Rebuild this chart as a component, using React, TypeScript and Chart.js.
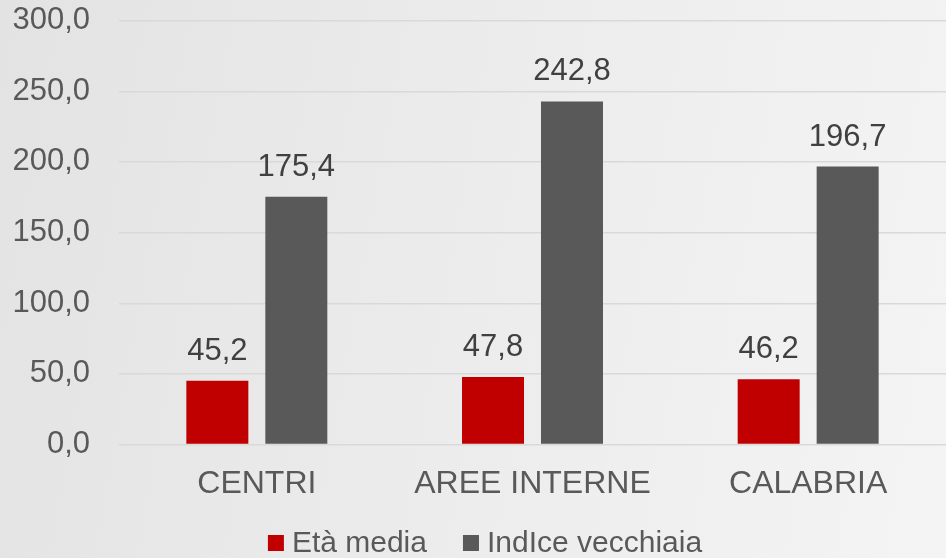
import React, { useEffect, useRef } from "react";
import { Chart, registerables } from "chart.js";

Chart.register(...registerables);

const categories = ["CENTRI", "AREE INTERNE", "CALABRIA"];
const etaMedia = [45.2, 47.8, 46.2];
const indiceVecchiaia = [175.4, 242.8, 196.7];
const seriesNames = ["Età media", "IndIce vecchiaia"];
const seriesColors = ["#C00000", "#595959"];

const FONT = 'Arial, "Liberation Sans", sans-serif';
const fmt = (v: number) => v.toFixed(1).replace(".", ",");

const dataLabels = {
  id: "dataLabels",
  afterDatasetsDraw(chart: any) {
    const ctx = chart.ctx;
    ctx.save();
    ctx.font = `31px ${FONT}`;
    ctx.fillStyle = "#404040";
    ctx.textAlign = "center";
    ctx.textBaseline = "bottom";
    chart.data.datasets.forEach((ds: any, i: number) => {
      const meta = chart.getDatasetMeta(i);
      meta.data.forEach((bar: any, j: number) => {
        ctx.fillText(fmt(ds.data[j]), bar.x, bar.y - 14);
      });
    });
    ctx.restore();
  },
};

const bottomLegend = {
  id: "bottomLegend",
  afterDraw(chart: any) {
    const ctx = chart.ctx;
    const box = 16;
    const gapText = 8;
    const gapItem = 36;
    const centerX = 485;
    const centerY = 543;
    ctx.save();
    ctx.font = `30px ${FONT}`;
    ctx.textBaseline = "middle";
    ctx.textAlign = "left";
    const items = chart.data.datasets.map((ds: any) => ({
      label: ds.label,
      color: ds.backgroundColor,
      w: ctx.measureText(ds.label).width,
    }));
    const total =
      items.reduce((s: number, it: any) => s + box + gapText + it.w, 0) +
      gapItem * (items.length - 1);
    let x = centerX - total / 2;
    items.forEach((it: any) => {
      ctx.fillStyle = it.color;
      ctx.fillRect(x, centerY - box / 2, box, box);
      ctx.fillStyle = "#595959";
      ctx.fillText(it.label, x + box + gapText, centerY + 1);
      x += box + gapText + it.w + gapItem;
    });
    ctx.restore();
  },
};

export default function App() {
  const ref = useRef<HTMLCanvasElement>(null);
  useEffect(() => {
    const chart = new Chart(ref.current!, {
      type: "bar",
      data: {
        labels: categories,
        datasets: [
          { label: seriesNames[0], data: etaMedia, backgroundColor: seriesColors[0] },
          { label: seriesNames[1], data: indiceVecchiaia, backgroundColor: seriesColors[1] },
        ],
      },
      options: {
        animation: false,
        responsive: false,
        maintainAspectRatio: false,
        layout: { padding: { left: 12, right: 0, top: 0, bottom: 35 } },
        datasets: { bar: { categoryPercentage: 0.573, barPercentage: 0.785 } },
        scales: {
          x: {
            grid: { display: false, drawTicks: false },
            border: { display: false },
            ticks: { color: "#595959", font: { family: FONT, size: 32 }, padding: 20 },
          },
          y: {
            min: 0,
            max: 300,
            afterFit: (scale: any) => {
              scale.width = 107;
            },
            grid: {
              color: "#D9D9D9",
              lineWidth: 1.5,
              drawTicks: true,
              tickLength: 27,
              tickColor: "rgba(0,0,0,0)",
            },
            border: { display: false },
            ticks: {
              stepSize: 50,
              color: "#595959",
              font: { family: FONT, size: 31 },
              padding: 2,
              callback: (v: any) => fmt(Number(v)),
            },
          },
        },
        plugins: {
          legend: { display: false },
          tooltip: { enabled: false },
        },
      },
      plugins: [dataLabels, bottomLegend],
    });
    return () => chart.destroy();
  }, []);
  return (
    <div
      style={{
        position: "absolute",
        left: 0,
        top: 0,
        width: 946,
        height: 558,
        background: "linear-gradient(100deg, #e3e3e3 0%, #ececec 50%, #f4f4f4 100%)",
      }}
    >
      <canvas ref={ref} width={946} height={558} style={{ display: "block" }} />
    </div>
  );
}
